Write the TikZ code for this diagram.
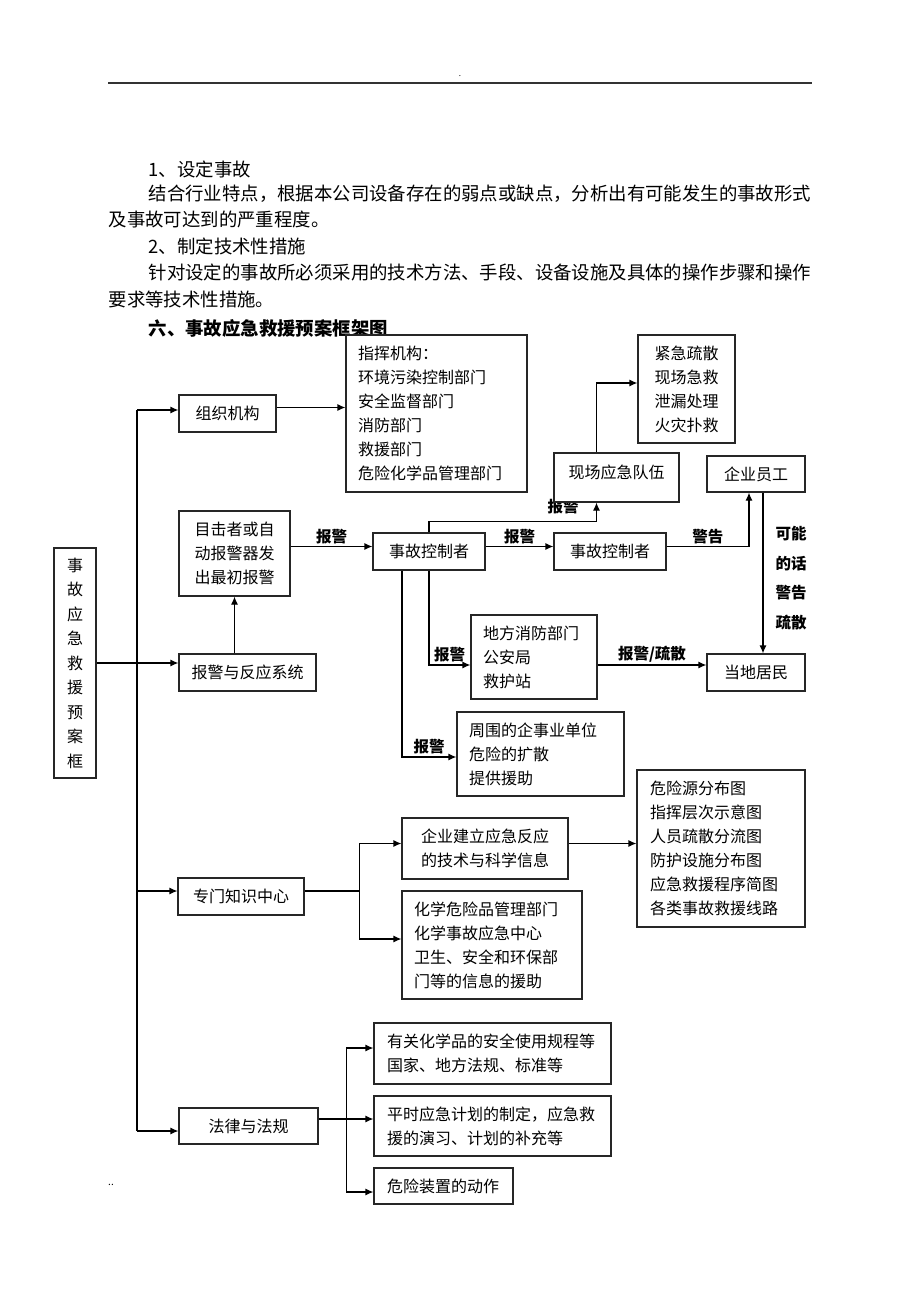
\documentclass[tikz,border=0pt]{standalone}
\usepackage{fontspec}
\setmainfont{Noto Sans CJK SC}
\usetikzlibrary{arrows.meta}

\begin{document}
\begin{tikzpicture}[x=1pt,y=-1pt,line width=1.2pt,>={Latex[length=8pt,width=7pt]},
    box/.style={draw=black!85,fill=white,inner sep=0pt,align=center,font=\fontsize{16}{24}\selectfont},
    lbox/.style={box,align=left,inner xsep=12pt},
    lbl/.style={font=\bfseries\fontsize{15.5}{18}\selectfont,inner sep=2pt},
    body/.style={anchor=west,inner sep=0pt,font=\fontsize{18.4}{22}\selectfont}]
    \fill[white] (0,0) rectangle (920,1302);
    % page head
    \draw[line width=1.5pt,black!80] (108,83) -- (812,83);
    \node[font=\fontsize{8}{8}\selectfont] (hdot) at (460,76) {.};
    % text above the chart
    \node[body] (p1) at (148,169) {1、设定事故};
    \node[body] (p2) at (148,194) {结合行业特点，根据本公司设备存在的弱点或缺点，分析出有可能发生的事故形式};
    \node[body] (p3) at (108,219) {及事故可达到的严重程度。};
    \node[body] (p4) at (148,246) {2、制定技术性措施};
    \node[body] (p5) at (148,272) {针对设定的事故所必须采用的技术方法、手段、设备设施及具体的操作步骤和操作};
    \node[body] (p6) at (108,299) {要求等技术性措施。};
    \node[body,font=\bfseries\fontsize{18.4}{22}\selectfont] (title) at (148,328) {六、事故应急救援预案框架图};
    % chart boxes
    \node[lbox,text width=157pt,minimum height=157pt] (zhihui) at (436.5,413.5) {指挥机构：\\环境污染控制部门\\安全监督部门\\消防部门\\救援部门\\危险化学品管理部门};
    \node[box,minimum width=97pt,minimum height=37pt] (zuzhi) at (227.5,413.5) {组织机构};
    \node[box,minimum width=97pt,minimum height=108pt] (jinji) at (686.5,389) {紧急疏散\\现场急救\\泄漏处理\\火灾扑救};
    \node[lbl] (lbxc) at (563,507) {报警};
    \node[box,minimum width=125pt,minimum height=49pt,text depth=11pt] (xianchang) at (616.5,477.5) {现场应急队伍};
    \node[box,minimum width=98pt,minimum height=36pt] (staff) at (756,474) {企业员工};
    \node[box,minimum width=111pt,minimum height=85pt] (witness) at (234.5,553.5) {目击者或自\\动报警器发\\出最初报警};
    \node[box,minimum width=112pt,minimum height=37pt] (ctrlA) at (429,551.5) {事故控制者};
    \node[box,minimum width=112pt,minimum height=37pt] (ctrlB) at (610,551.5) {事故控制者};
    \node[box,minimum width=42pt,minimum height=230pt,font=\fontsize{16}{24.5}\selectfont] (frame) at (75,663) {事\\故\\应\\急\\救\\援\\预\\案\\框};
    \node[box,minimum width=137pt,minimum height=37pt] (alarmsys) at (247.5,672.5) {报警与反应系统};
    \node[lbox,text width=102pt,minimum height=84pt] (fire) at (534,657) {地方消防部门\\公安局\\救护站};
    \node[box,minimum width=98pt,minimum height=37pt] (resident) at (756,672.5) {当地居民};
    \node[lbox,text width=143pt,minimum height=84pt] (around) at (540.5,754) {周围的企事业单位\\危险的扩散\\提供援助};
    \node[box,minimum width=126pt,minimum height=37pt] (knowledge) at (241,896.5) {专门知识中心};
    \node[box,minimum width=166pt,minimum height=61pt] (build) at (485,848.5) {企业建立应急反应\\的技术与科学信息};
    \node[lbox,inner xsep=13pt,text width=142pt,minimum height=157pt] (maps) at (721,848.5) {危险源分布图\\指挥层次示意图\\人员疏散分流图\\防护设施分布图\\应急救援程序简图\\各类事故救援线路};
    \node[lbox,text width=156pt,minimum height=108pt] (chem) at (492,945) {化学危险品管理部门\\化学事故应急中心\\卫生、安全和环保部\\门等的信息的援助};
    \node[box,minimum width=139pt,minimum height=36pt] (law) at (248.5,1126) {法律与法规};
    \node[lbox,inner xsep=13pt,text width=211pt,minimum height=61pt] (rules) at (492.5,1053.5) {有关化学品的安全使用规程等\\国家、地方法规、标准等};
    \node[lbox,inner xsep=13pt,text width=211pt,minimum height=60pt] (drill) at (492.5,1126) {平时应急计划的制定，应急救\\援的演习、计划的补充等};
    \node[lbox,inner xsep=13pt,text width=113pt,minimum height=36pt] (device) at (443.5,1186) {危险装置的动作};
    \node[lbl,align=left,font=\bfseries\fontsize{15.5}{29.5}\selectfont] (maybe) at (791,578) {可能\\的话\\警告\\疏散};
    \node[font=\fontsize{10}{10}\selectfont] (dots) at (111,1185) {..};
    % trunk on the left
    \coordinate (ta) at (137,410);
    \coordinate (tk) at (137,891);
    \coordinate (tb) at (137,1131);
    \draw (ta) -- (tb);
    \draw[->] (ta) -- (ta -| zuzhi.west);
    \draw[->] (frame.east) -- (frame.east -| alarmsys.west);
    \draw[->] (tk) -- (tk -| knowledge.west);
    \draw[->] (tb) -- (tb -| law.west);
    % alarm chain
    \draw[->] ([yshift=6pt]zuzhi.east) -- ([yshift=6pt]zuzhi.east -| zhihui.west);
    \draw[->] (witness.south |- alarmsys.north) -- (witness.south);
    \draw[->] ([yshift=5pt]ctrlA.west -| witness.east) -- node[lbl,above] {报警} ([yshift=5pt]ctrlA.west);
    \draw[->] ([yshift=5pt]ctrlA.east) -- node[lbl,above] {报警} ([yshift=5pt]ctrlB.west);
    \draw[->] (ctrlA.north) -- ++(0,-11) -| ([xshift=-20pt]xianchang.south);
    \draw[->] ([xshift=-20pt]xianchang.north) |- ([yshift=6pt]jinji.west);
    \draw[->] ([yshift=5pt]ctrlB.east) -| node[lbl,above,pos=0.25] {警告} ([xshift=-7pt]staff.south);
    \draw[->] ([xshift=7pt]staff.south) -- ([xshift=7pt]staff.south |- resident.north);
    \draw[->] (ctrlA.south) |- node[lbl,above,pos=0.75] {报警} ([yshift=-8pt]fire.west);
    \draw[->] ([xshift=-27pt]ctrlA.south) |- node[lbl,above,pos=0.75] {报警} ([yshift=-3pt]around.west);
    \draw[->] ([yshift=-8pt]fire.east) -- node[lbl,above] {报警/疏散} ([yshift=-8pt]fire.east -| resident.west);
    % knowledge branch
    \path ([yshift=5.5pt]knowledge.east) -- ++(55,0) coordinate (kfork);
    \draw ([yshift=5.5pt]knowledge.east) -- (kfork);
    \draw[->] (kfork) |- ([yshift=5pt]build.west);
    \draw[->] (kfork) |- ([yshift=6pt]chem.west);
    \draw[->] ([yshift=5pt]build.east) -- ([yshift=5pt]build.east -| maps.west);
    % law branch
    \path ([yshift=7pt]law.east) -- ++(28,0) coordinate (lfork);
    \draw[->] ([yshift=7pt]law.east) -- ([yshift=7pt]law.east -| drill.west);
    \draw[->] (lfork) |- ([yshift=5.5pt]rules.west);
    \draw[->] (lfork) |- ([yshift=-6pt]device.west);
\end{tikzpicture}
\end{document}
